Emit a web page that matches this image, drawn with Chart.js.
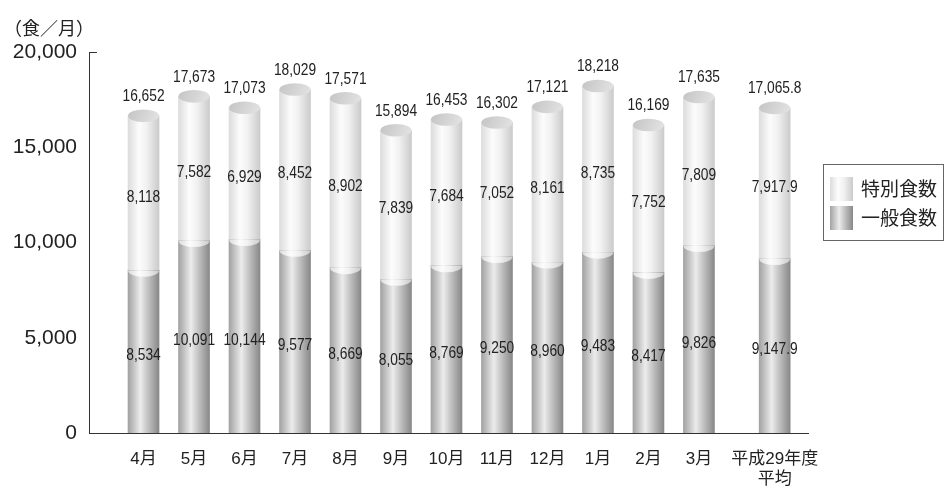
<!DOCTYPE html>
<html><head><meta charset="utf-8">
<script src="https://cdn.jsdelivr.net/npm/chart.js@4.4.1/dist/chart.umd.min.js"></script>
<style>html,body{margin:0;padding:0;background:#fff;}#wrap{width:944px;height:488px;position:relative;}</style>
</head><body><div id="wrap"><canvas id="c" width="944" height="488"></canvas></div>
<script>
// ---- data ----
const categories = ['4月','5月','6月','7月','8月','9月','10月','11月','12月','1月','2月','3月',['平成29年度','平均']];
const generalMeals = [8534,10091,10144,9577,8669,8055,8769,9250,8960,9483,8417,9826,9147.9];
const specialMeals = [8118,7582,6929,8452,8902,7839,7684,7052,8161,8735,7752,7809,7917.9];
const totals = [16652,17673,17073,18029,17571,15894,16453,16302,17121,18218,16169,17635,17065.8];
const yTicks = [0,5000,10000,15000,20000];
const seriesNames = ['一般食数','特別食数'];
const unitLabel = '（食／月）';

// ---- layout / style ----
const BAR_W = 31;
const RY = 6.3;
const FONT = "'Liberation Sans', 'Noto Sans CJK JP', sans-serif";
const CJK = "'Noto Sans CJK JP', 'Liberation Sans', sans-serif";
const upperStops = [[0,'#dcdcdc'],[0.35,'#fcfcfc'],[0.6,'#f1f1f1'],[1,'#cbcbcb']];
const lowerStops = [[0,'#a2a2a2'],[0.4,'#ececec'],[0.62,'#c6c6c6'],[1,'#888888']];
// month bars at 0..11, the yearly average placed after an extra half gap
const xPos = categories.map((c,i)=> i < categories.length-1 ? i : i + 0.5);

function hGrad(ctx, x0, x1, stops){
  const g = ctx.createLinearGradient(x0,0,x1,0);
  stops.forEach(([o,c])=>g.addColorStop(o,c));
  return g;
}
function barColor(stops){
  return (c)=>{
    const xs = c.chart.scales && c.chart.scales.x;
    if(!xs || !c.raw) return stops[1][1];
    const px = xs.getPixelForValue(c.raw.x);
    if(!isFinite(px)) return stops[1][1];
    return hGrad(c.chart.ctx, px-BAR_W/2, px+BAR_W/2, stops);
  };
}
function fmt(v){
  const d = Number.isInteger(v) ? 0 : 1;
  return v.toLocaleString('en-US',{minimumFractionDigits:d,maximumFractionDigits:d});
}
function label(ctx, text, x, y){
  ctx.save();
  ctx.translate(x,y);
  ctx.scale(0.86,1);
  ctx.fillText(text,0,0);
  ctx.restore();
}

const cylPlugin = {
  id:'cyl',
  afterDatasetsDraw(chart){
    const ctx = chart.ctx;
    const lo = chart.getDatasetMeta(0).data;
    const up = chart.getDatasetMeta(1).data;
    ctx.save();
    up.forEach((el,i)=>{
      const x = el.x, rx = BAR_W/2;
      ctx.fillStyle = hGrad(ctx, x-rx, x+rx, upperStops);
      ctx.beginPath();
      ctx.ellipse(x, el.base, rx, RY, 0, 0, Math.PI);
      ctx.closePath();
      ctx.fill();
      const g = ctx.createLinearGradient(x-rx, el.y-RY, x+rx, el.y+RY);
      g.addColorStop(0,'#c4c4c4'); g.addColorStop(1,'#e4e4e4');
      ctx.fillStyle = g;
      ctx.beginPath();
      ctx.ellipse(x, el.y, rx, RY, 0, 0, Math.PI*2);
      ctx.fill();
    });
    ctx.fillStyle = '#222';
    ctx.textAlign = 'center';
    ctx.textBaseline = 'middle';
    ctx.font = "16px " + FONT;
    up.forEach((el,i)=>{
      label(ctx, fmt(totals[i]), el.x, el.y - 19);
      label(ctx, fmt(specialMeals[i]), el.x, (el.y + el.base)/2 + 4);
      const l = lo[i];
      label(ctx, fmt(generalMeals[i]), l.x, (l.y + l.base)/2 + 4);
    });
    ctx.restore();
  },
  afterDraw(chart){
    const ctx = chart.ctx;
    const ys = chart.scales.y;
    ctx.save();
    const yt = Math.round(ys.getPixelForValue(yTicks[yTicks.length-1])) + 0.5;
    ctx.strokeStyle = '#333'; ctx.lineWidth = 1;
    ctx.beginPath(); ctx.moveTo(ys.right, yt); ctx.lineTo(ys.right+8, yt); ctx.stroke();
    ctx.fillStyle = '#222';
    ctx.font = "18px " + CJK;
    ctx.textBaseline = 'middle';
    ctx.textAlign = 'left';
    ctx.fillText(unitLabel, 4, 28);
    ctx.strokeStyle = '#666';
    ctx.strokeRect(823.5, 164.5, 120, 76);
    const items = [[seriesNames[1], upperStops],[seriesNames[0], lowerStops]];
    items.forEach(([name, stops], k)=>{
      const y0 = 177 + k*29;
      ctx.fillStyle = hGrad(ctx, 830, 853, stops);
      ctx.fillRect(830, y0, 23, 24);
      ctx.fillStyle = '#222';
      ctx.font = "19px " + CJK;
      ctx.fillText(name, 861, y0 + 12);
    });
    ctx.restore();
  }
};

new Chart(document.getElementById('c'), {
  type:'bar',
  data:{
    datasets:[
      {label:seriesNames[0], data:generalMeals.map((v,i)=>({x:xPos[i], y:v})), backgroundColor:barColor(lowerStops), borderWidth:0, barThickness:BAR_W},
      {label:seriesNames[1], data:specialMeals.map((v,i)=>({x:xPos[i], y:v})), backgroundColor:barColor(upperStops), borderWidth:0, barThickness:BAR_W}
    ]
  },
  options:{
    responsive:false,
    animation:false,
    layout:{padding:{top:52,right:136,left:0,bottom:0}},
    plugins:{legend:{display:false}, tooltip:{enabled:false}},
    scales:{
      x:{
        type:'linear', stacked:true, offset:false, min:-1.08, max:13.16,
        grid:{display:false, drawTicks:false, offset:false},
        border:{display:true, color:'#333', width:1},
        afterBuildTicks:(s)=>{ s.ticks = xPos.map(v=>({value:v})); },
        afterFit:(s)=>{ s.height = 55; },
        ticks:{
          autoSkip:false, maxRotation:0, padding:17, color:'#222',
          font:{family:FONT, size:17, lineHeight:1.15},
          callback:(v,i)=>categories[i]
        }
      },
      y:{
        stacked:true, min:0, max:20000,
        grid:{display:false, drawTicks:false},
        border:{display:true, color:'#333', width:1},
        afterBuildTicks:(s)=>{ s.ticks = yTicks.map(v=>({value:v})); },
        afterFit:(s)=>{ s.width = 89; },
        ticks:{
          padding:12, color:'#222',
          font:{family:FONT, size:21},
          callback:(v)=>v.toLocaleString('en-US')
        }
      }
    }
  },
  plugins:[cylPlugin]
});
</script>
</body></html>
